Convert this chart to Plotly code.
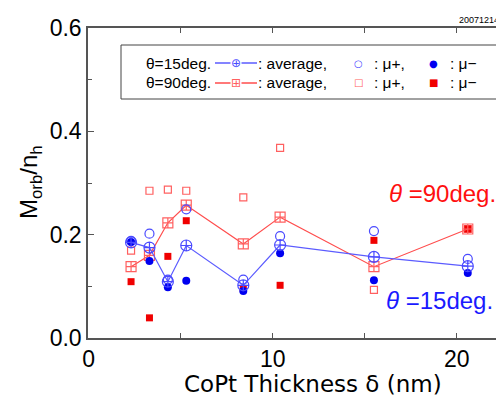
import plotly.graph_objects as go

thickness = [2.3, 3.3, 4.3, 5.3, 8.4, 10.4, 15.5, 20.6]

avg15 = [0.185, 0.175, 0.109, 0.179, 0.102, 0.180, 0.157, 0.139]
mup15 = [0.188, 0.202, 0.113, 0.249, 0.113, 0.197, 0.207, 0.153]
mum15 = [0.186, 0.149, 0.098, 0.111, 0.091, 0.164, 0.112, 0.126]

avg90 = [0.138, 0.160, 0.223, 0.257, 0.182, 0.234, 0.138, 0.211]
mup90 = [0.169, 0.285, 0.287, 0.285, 0.272, 0.368, 0.093, 0.211]
mum90 = [0.109, 0.039, 0.158, 0.227, 0.096, 0.102, 0.189, 0.211]

x_ticks = [0, 10, 20]
y_ticks = [0.0, 0.2, 0.4, 0.6]
y_ticklabels = ["0.0", "0.2", "0.4", "0.6"]

# page body has an 8px margin; compensate so the plot lands where the reference has it
OFF = 8
W, H = 504 - OFF, 397 - OFF
L, T, B = 88 - OFF, 28 - OFF, 59
R = 0
PW, PH = W - L - R, H - T - B


def px(x):
    return (x - OFF - L) / PW


def py(y):
    return (H - B - (y - OFF)) / PH


BLUE_LINE = "#5b5bff"
BLUE_OPEN = "#4a4aff"
BLUE_FILL = "#0000f0"
RED_LINE = "#ff4d4d"
RED_OPEN = "#ff6060"
RED_FILL = "#f00000"
FONT = "Liberation Sans, Arial, sans-serif"

fig = go.Figure()

# theta = 90 deg
fig.add_trace(go.Scatter(x=thickness, y=mup90, mode="markers",
                         marker=dict(symbol="square-open", size=7, color=RED_OPEN, line=dict(width=1.2))))
fig.add_trace(go.Scatter(x=thickness, y=mum90, mode="markers",
                         marker=dict(symbol="square", size=7, color=RED_FILL)))
fig.add_trace(go.Scatter(x=thickness, y=avg90, mode="lines+markers",
                         line=dict(color=RED_LINE, width=1.2),
                         marker=dict(symbol="square-cross-open", size=10, color=RED_OPEN, line=dict(width=1.2))))
# theta = 15 deg
fig.add_trace(go.Scatter(x=thickness, y=mup15, mode="markers",
                         marker=dict(symbol="circle-open", size=9, color=BLUE_OPEN, line=dict(width=1.2))))
fig.add_trace(go.Scatter(x=thickness, y=mum15, mode="markers",
                         marker=dict(symbol="circle", size=8, color=BLUE_FILL)))
fig.add_trace(go.Scatter(x=thickness, y=avg15, mode="lines+markers",
                         line=dict(color=BLUE_LINE, width=1.2),
                         marker=dict(symbol="circle-cross-open", size=11, color=BLUE_OPEN, line=dict(width=1.2))))

ann = []
# legend box
shapes = [dict(type="rect", xref="paper", yref="paper", x0=px(121), x1=px(499), y0=py(99), y1=py(45),
               line=dict(color="#444", width=1), fillcolor="white", layer="above")]

rows = [
    (63, "θ=15deg.", BLUE_LINE, "⊕", BLUE_OPEN, "○", BLUE_OPEN, "●", BLUE_FILL),
    (83, "θ=90deg.", RED_LINE, "⊞", RED_OPEN, "□", RED_OPEN, "■", RED_FILL),
]
LF = 15.5
for (yy, lab, lc, sym, sc, op, oc, fl, fc) in rows:
    ann.append(dict(x=px(144), y=py(yy), xref="paper", yref="paper", xanchor="left", yanchor="middle",
                    text=lab, showarrow=False, font=dict(size=LF, color="black", family=FONT)))
    shapes.append(dict(type="line", xref="paper", yref="paper", x0=px(215), x1=px(257), y0=py(yy), y1=py(yy),
                       line=dict(color=lc, width=1.3), layer="above"))
    ann.append(dict(x=px(236), y=py(yy), xref="paper", yref="paper", xanchor="center", yanchor="middle",
                    text=sym, showarrow=False, bgcolor="white", borderpad=0,
                    font=dict(size=12, color=sc, family="DejaVu Sans")))
    ann.append(dict(x=px(256), y=py(yy), xref="paper", yref="paper", xanchor="left", yanchor="middle",
                    text=": average,", showarrow=False, font=dict(size=LF, color="black", family=FONT)))
    ann.append(dict(x=px(358), y=py(yy), xref="paper", yref="paper", xanchor="center", yanchor="middle",
                    text=op, showarrow=False, font=dict(size=10, color=oc, family="DejaVu Sans")))
    ann.append(dict(x=px(372), y=py(yy), xref="paper", yref="paper", xanchor="left", yanchor="middle",
                    text=": μ+,", showarrow=False, font=dict(size=LF, color="black", family=FONT)))
    ann.append(dict(x=px(433), y=py(yy), xref="paper", yref="paper", xanchor="center", yanchor="middle",
                    text=fl, showarrow=False, font=dict(size=10, color=fc, family="DejaVu Sans")))
    ann.append(dict(x=px(448), y=py(yy), xref="paper", yref="paper", xanchor="left", yanchor="middle",
                    text=": μ−", showarrow=False, font=dict(size=LF, color="black", family=FONT)))

ann += [
    dict(x=px(387), y=py(193), xref="paper", yref="paper", xanchor="left", yanchor="middle",
         text="<i>θ</i> =90deg.", showarrow=False, font=dict(size=24, color="#ff1010", family=FONT)),
    dict(x=px(384), y=py(300), xref="paper", yref="paper", xanchor="left", yanchor="middle",
         text="<i>θ</i> =15deg.", showarrow=False, font=dict(size=24, color="#1a1aff", family=FONT)),
    dict(x=px(313), y=py(384), xref="paper", yref="paper", xanchor="center", yanchor="middle",
         text="CoPt Thickness δ (nm)", showarrow=False, font=dict(size=23, color="black", family="DejaVu Sans")),
    dict(x=px(30), y=py(182), xref="paper", yref="paper", xanchor="center", yanchor="middle", textangle=-90,
         text="M<sub>orb</sub>/n<sub>h</sub>", showarrow=False, font=dict(size=24, color="black", family=FONT)),
    dict(x=px(457), y=py(20), xref="paper", yref="paper", xanchor="left", yanchor="middle",
         text="200712140", showarrow=False, font=dict(size=9, color="black", family=FONT)),
]

fig.update_layout(
    width=W, height=H, margin=dict(l=L, r=R, t=T, b=B),
    paper_bgcolor="white", plot_bgcolor="white", showlegend=False,
    annotations=ann, shapes=shapes,
    xaxis=dict(range=[-0.04, PW / 18.4 - 0.04], tickvals=x_ticks, ticks="inside", ticklen=5,
               tickcolor="#555", showline=True, linecolor="#555", linewidth=1.5, mirror="ticks",
               showgrid=False, zeroline=False,
               minor=dict(ticks="inside", ticklen=5, dtick=5, tickcolor="#555", showgrid=False),
               tickfont=dict(size=23, color="black", family=FONT)),
    yaxis=dict(range=[0, 0.6], tickvals=y_ticks, ticktext=y_ticklabels, ticks="inside", ticklen=6,
               tickcolor="#555", showline=True, linecolor="#555", linewidth=1.5, mirror=False,
               showgrid=False, zeroline=False,
               minor=dict(ticks="inside", ticklen=4, dtick=0.1, tickcolor="#555", showgrid=False),
               tickfont=dict(size=23, color="black", family=FONT)),
)

fig.write_html("out.html")
